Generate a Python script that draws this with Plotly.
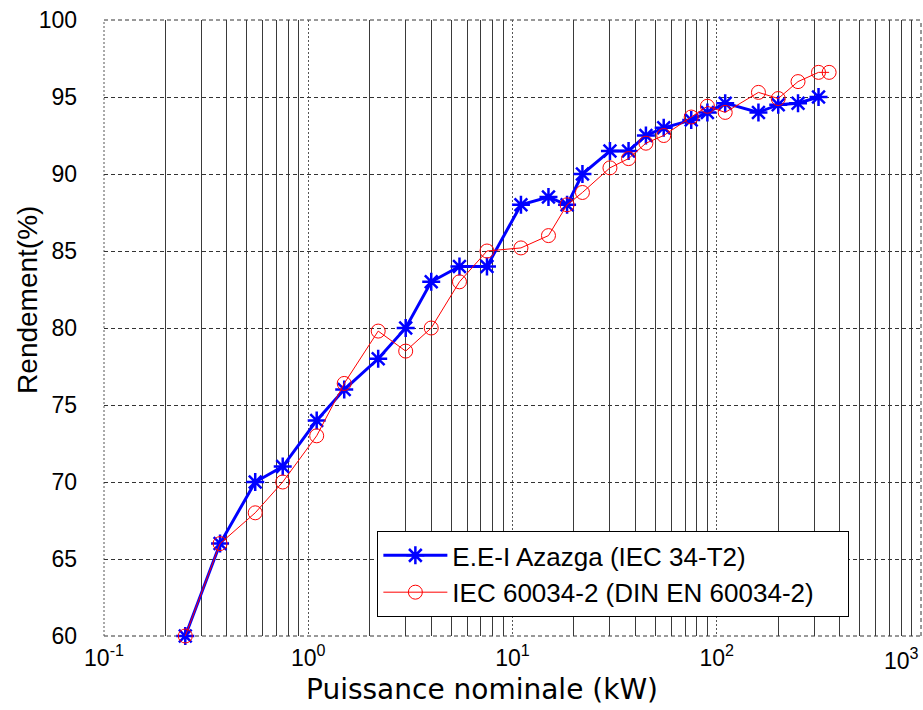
import plotly.graph_objects as go

# ---- data ----
power_kw = [0.25, 0.37, 0.55, 0.75, 1.1, 1.5, 2.2, 3, 4, 5.5, 7.5, 11, 15, 18.5,
            22, 30, 37, 45, 55, 75, 90, 110, 160, 200, 250, 315]
eff_azazga = [60, 66, 70, 71, 74, 76, 78, 80, 83, 84, 84, 88, 88.5, 88,
              90, 91.5, 91.5, 92.5, 93, 93.5, 94, 94.6, 94, 94.5, 94.6, 95]

power_kw_iec = power_kw + [355]
eff_iec = [60, 66, 68, 70, 73, 76.4, 79.8, 78.5, 80, 83, 85, 85.2, 86, 88,
           88.8, 90.4, 91, 92, 92.5, 93.7, 94.4, 94, 95.3, 94.9, 96, 96.6, 96.6]

x_tickvals = [0.1, 1, 10, 100]
x_ticktext = ["10<sup>-1</sup>", "10<sup>0</sup>", "10<sup>1</sup>", "10<sup>2</sup>"]
x_last_tick = "10<sup>3</sup>"
y_tickvals = [60, 65, 70, 75, 80, 85, 90, 95, 100]

NB = "\u00a0"
name_a = "E.E-I Azazga (IEC 34-T2)"
name_b = "IEC 60034-2 (DIN EN 60034-2)"
x_title = "Puissance nominale (kW)"
y_title = "Rendement(%)"

minor_vals = [m * 10 ** e for e in range(-1, 3) for m in range(2, 10)]

fig = go.Figure()
fig.add_trace(go.Scatter(
    x=power_kw, y=eff_azazga, name=name_a, mode="lines+markers",
    line=dict(color="#0000ff", width=3),
    marker=dict(symbol="asterisk-open", size=15, color="#0000ff",
                line=dict(color="#0000ff", width=2.5)),
    cliponaxis=False,
))
fig.add_trace(go.Scatter(
    x=power_kw_iec, y=eff_iec, name=name_b + NB * 4, mode="lines+markers",
    line=dict(color="#ff0000", width=1),
    marker=dict(symbol="circle-open", size=14, color="#ff0000",
                line=dict(color="#ff0000", width=1)),
    cliponaxis=False,
))

fig.update_layout(
    width=923, height=710,
    margin=dict(l=104, r=2, t=20, b=74, autoexpand=False),
    paper_bgcolor="white", plot_bgcolor="white",
    font=dict(family="Liberation Sans, Arial, sans-serif", color="black"),
    showlegend=True,
    legend=dict(
        x=0.3346, y=0.1705, xanchor="left", yanchor="top",
        bgcolor="white", bordercolor="black", borderwidth=1,
        font=dict(size=26, family="Liberation Sans, Arial, sans-serif"),
        tracegroupgap=0, itemwidth=64,
    ),
)

grid_dash = "4px,3px"
fig.update_xaxes(
    type="log", range=[-1, 3], automargin=False,
    tickmode="array", tickvals=x_tickvals, ticktext=x_ticktext,
    tickfont=dict(size=23), ticks="", ticklabelstandoff=6,
    showgrid=True, gridcolor="#555555", gridwidth=1, griddash="2px,2px",
    minor=dict(tickmode="array", tickvals=minor_vals, showgrid=True,
               gridcolor="#3a3a3a", gridwidth=1, griddash="solid", ticks=""),
    showline=False, zeroline=False,
)
fig.update_yaxes(
    range=[60, 100], tickmode="array", tickvals=y_tickvals, automargin=False,
    tickfont=dict(size=23), ticks="", ticklabelstandoff=26,
    showgrid=True, gridcolor="#333333", gridwidth=1, griddash=grid_dash,
    showline=False, zeroline=False,
)

# frame of the axes (dashed, like the grid)
border = dict(color="#333333", width=1, dash=grid_dash)
fig.add_shape(type="line", xref="paper", yref="paper", x0=0, x1=1, y0=1, y1=1, line=border, layer="below")
fig.add_shape(type="line", xref="paper", yref="paper", x0=0, x1=1, y0=0, y1=0, line=border, layer="below")
fig.add_shape(type="line", xref="paper", yref="paper", x0=1, x1=1, y0=0, y1=1, line=border, layer="below")
fig.add_shape(type="line", xref="paper", yref="paper", x0=0, x1=0, y0=0, y1=1,
              line=dict(color="#555555", width=1, dash="2px,2px"), layer="below")

# last x tick label, kept inside the figure as in the reference
fig.add_annotation(
    text=x_last_tick, xref="x", yref="paper", x=3, y=0, yanchor="top", xanchor="right",
    yshift=-6, xshift=0, showarrow=False, font=dict(size=23),
)

fig.add_annotation(
    text=x_title, xref="paper", yref="paper",
    x=0.463, y=-0.0875, xanchor="center", yanchor="middle",
    showarrow=False, font=dict(size=28, family="DejaVu Sans, sans-serif"),
)
fig.add_annotation(
    text=y_title, xref="paper", yref="paper", textangle=-90,
    x=-0.0935, y=0.545, xanchor="center", yanchor="middle",
    showarrow=False, font=dict(size=28, family="Liberation Sans, Arial, sans-serif"),
)

fig.write_html("out.html")
